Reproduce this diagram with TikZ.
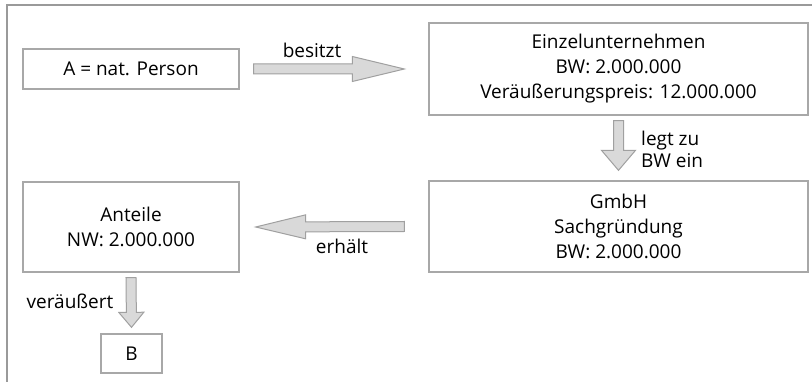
\documentclass[tikz,border=0pt]{standalone}
\usepackage{fontspec}
\setmainfont{Open Sans}
\usetikzlibrary{calc}
\definecolor{boxline}{HTML}{A8A8A8}
\definecolor{frameline}{HTML}{9A9A9A}
\definecolor{arrfill}{HTML}{D9D9D9}
\definecolor{arrline}{HTML}{A0A0A0}
\newcommand\blockarr[5]{%
  \coordinate (hb) at ($(#2)!#5!(#1)$);
  \draw[arr] ($(#1)!#3!90:(#2)$) -- ($(hb)!#3!90:(#2)$) -- ($(hb)!#4!90:(#2)$) -- (#2)
    -- ($(hb)!#4!-90:(#2)$) -- ($(hb)!#3!-90:(#2)$) -- ($(#1)!#3!-90:(#2)$) -- cycle;}
\tikzset{
  every node/.style={font=\fontsize{19}{25}\selectfont, text=black},
  box/.style={draw=boxline, line width=1.3pt, inner sep=0pt, align=center},
  lbl/.style={inner sep=0pt},
  arr/.style={fill=arrfill, draw=arrline, line width=1pt, line join=miter},
  frame/.style={draw=frameline, line width=2pt}
}
\begin{document}
\begin{tikzpicture}[x=1pt,y=-1pt]
\useasboundingbox (0,0) rectangle (812,382);
\draw[frame] (7,382) -- (7,5) -- (812,5);

\node[box, minimum width=216pt, minimum height=40pt] (A) at (131,69) {A = nat. Person};
\node[box, minimum width=379pt, minimum height=92pt] (E) at (618.5,69)
  {Einzelunternehmen\\BW: 2.000.000\\Veräußerungspreis: 12.000.000};
\node[box, minimum width=379pt, minimum height=91pt] (G) at (618.5,226.5)
  {GmbH\\Sachgründung\\BW: 2.000.000};
\node[box, minimum width=216pt, minimum height=90pt] (N) at (131,227)
  {Anteile\\NW: 2.000.000};
\node[box, minimum width=61pt, minimum height=39pt] (B) at (131.5,353.5) {B};

% besitzt
\coordinate (b1) at ($(A.east)+(14,0)$);
\coordinate (b2) at ($(E.west)+(-24,0)$);
\blockarr{b1}{b2}{5pt}{12.5pt}{52pt}
\node[lbl] (lb) at (312,50) {besitzt};

% legt zu BW ein
\coordinate (l1) at ($(E.south)+(0,5)$);
\coordinate (l2) at ($(G.north)+(0,-10)$);
\blockarr{l1}{l2}{5pt}{17pt}{20pt}
\node[lbl, anchor=west, align=left, font=\fontsize{19}{22}\selectfont] (ll) at (641,149) {legt zu\\BW ein};

% erhaelt
\coordinate (e1) at ($(G.west)+(-24,0)$);
\coordinate (e2) at ($(N.east)+(16,0)$);
\blockarr{e1}{e2}{5pt}{12pt}{50pt}
\node[lbl] (le) at (342,246) {erhält};

% veraeussert
\coordinate (v1) at ($(N.south)+(0,5)$);
\coordinate (v2) at ($(B.north)+(0,-6)$);
\blockarr{v1}{v2}{5pt}{12.5pt}{15pt}
\node[lbl] (lv) at (70,301) {veräußert};
\end{tikzpicture}
\end{document}
